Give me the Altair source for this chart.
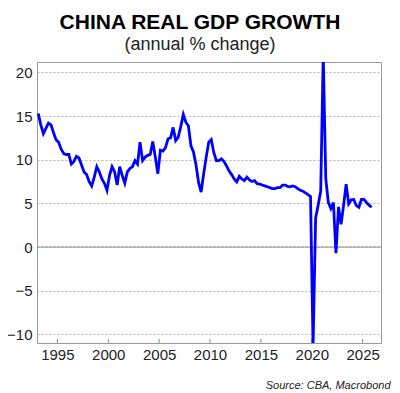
import altair as alt
import pandas as pd

# quarterly real GDP growth, % y/y, 1993 Q1 .. 2025 Q4
years = list(range(1993, 2026))
gdp = [
    15.3, 14.0, 13.0, 13.6,   # 1993
    14.2, 14.0, 13.1, 12.3,   # 1994
    12.0, 11.2, 10.7, 10.6,   # 1995
    10.6, 9.5, 9.8, 10.4,     # 1996
    10.2, 9.4, 8.6, 8.3,      # 1997
    7.5, 7.0, 8.0, 9.2,       # 1998
    8.6, 7.8, 7.3, 6.5,       # 1999
    8.2, 9.2, 8.6, 7.1,       # 2000
    9.2, 8.2, 7.3, 8.6,       # 2001
    9.0, 9.2, 9.9, 9.5,       # 2002
    12.0, 9.9, 10.3, 10.5,    # 2003
    10.6, 12.1, 10.3, 8.4,    # 2004
    11.1, 11.0, 11.4, 12.4,   # 2005
    12.5, 13.7, 12.2, 12.6,   # 2006
    13.8, 15.2, 14.3, 13.9,   # 2007
    11.6, 10.9, 9.4, 7.4,     # 2008
    6.3, 8.4, 10.3, 12.0,     # 2009
    12.3, 10.8, 9.9, 9.9,     # 2010
    10.1, 9.8, 9.3, 8.7,      # 2011
    8.3, 7.8, 7.45, 8.1,      # 2012
    7.8, 7.6, 8.0, 7.7,       # 2013
    7.5, 7.6, 7.25, 7.2,      # 2014
    7.1, 7.0, 6.9, 6.8,       # 2015
    6.7, 6.7, 6.8, 6.8,       # 2016
    7.1, 7.1, 6.95, 6.9,      # 2017
    7.0, 6.9, 6.7, 6.5,       # 2018
    6.4, 6.2, 6.0, 5.8,       # 2019
    -11.5, 3.3, 4.8, 6.4,     # 2020
    22.0, 7.8, 5.1, 4.4,      # 2021
    5.1, -0.7, 4.6, 2.6,      # 2022
    4.8, 7.2, 4.95, 5.4,      # 2023
    5.45, 4.75, 4.55, 5.45,   # 2024
    5.45, 5.1, 4.8, 4.55,     # 2025
]
x_ticks = [1995, 2000, 2005, 2010, 2015, 2020, 2025]
y_ticks = [-10, -5, 0, 5, 10, 15, 20]

df = pd.DataFrame({
    "t": [y + (q + 0.5) / 4 for y in years for q in range(4)],
    "g": gdp,
})

W, H = 344, 281
FONT = "Liberation Sans"

xscale = alt.Scale(domain=[1993.0, 2026.8], nice=False, zero=False)
yscale = alt.Scale(domain=[-11, 21.2], nice=False, zero=False)

line = alt.Chart(df).mark_line(color="#0000ff", strokeWidth=2.8, clip=True).encode(
    x=alt.X("t:Q", scale=xscale,
            axis=alt.Axis(values=x_ticks, format="d", grid=False, tickSize=0,
                          labelFontSize=15, labelPadding=4, domain=False,
                          labelColor="#222", labelFont=FONT,
                          title="Source: CBA, Macrobond", titleFontStyle="italic",
                          titleFontWeight="normal", titleFontSize=11, titleFont=FONT,
                          titleX=353, titleY=45, titleAlign="right",
                          titleBaseline="alphabetic", titleColor="#222")),
    y=alt.Y("g:Q", scale=yscale,
            axis=alt.Axis(values=y_ticks, grid=True, gridDash=[2, 2],
                          gridColor="#b4b4b4", tickSize=0, labelFontSize=15,
                          labelPadding=5, domain=False, title=None,
                          labelColor="#222", labelFont=FONT)),
)

zero = alt.Chart(pd.DataFrame({"v": [0]})).mark_rule(color="#8a8a8a", strokeWidth=1).encode(
    y=alt.Y("v:Q", scale=yscale)
)

ticks = alt.Chart(pd.DataFrame({"t": x_ticks})).mark_rule(color="#888", strokeWidth=1).encode(
    x=alt.X("t:Q", scale=xscale), y=alt.value(H - 4), y2=alt.value(H)
)

chart = alt.layer(zero, ticks, line).properties(
    width=W, height=H,
    padding={"left": 29, "top": 54, "right": 10, "bottom": 48},
    autosize=alt.AutoSizeParams(type="none"),
    background="white",
    title=alt.TitleParams(
        text="CHINA REAL GDP GROWTH", subtitle="(annual % change)",
        anchor="middle", fontSize=21, fontWeight="bold", font=FONT,
        subtitleFont=FONT, subtitleFontSize=18, color="black",
        subtitleColor="#222", offset=8, dx=-9, subtitlePadding=3,
    ),
).configure_view(stroke="#999", strokeWidth=1)

chart.save("out.html", embed_options={"renderer": "svg", "actions": False})
